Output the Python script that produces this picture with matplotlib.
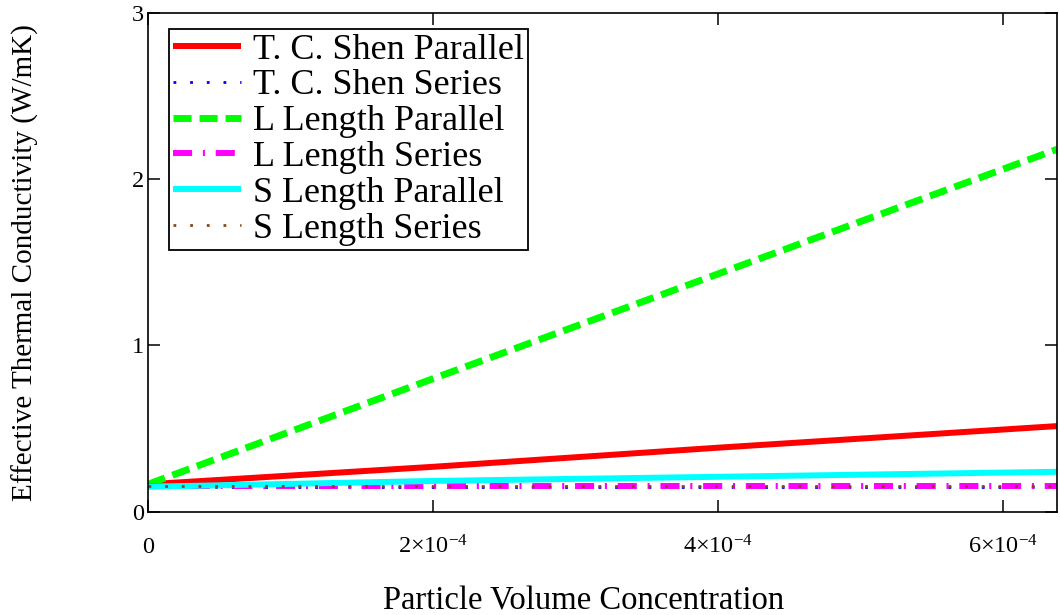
import numpy as np
import matplotlib
matplotlib.use("Agg")
import matplotlib.pyplot as plt

# --- data ---
conc = [0, 2e-4, 4e-4, 6.38e-4]                 # particle volume concentration
shen_parallel = [0.165, 0.27, 0.385, 0.515]
shen_series = [0.15, 0.15, 0.15, 0.15]
l_parallel = [0.165, 0.80, 1.43, 2.18]
l_series = [0.155, 0.155, 0.155, 0.155]
s_parallel = [0.15, 0.185, 0.21, 0.24]
s_series = [0.155, 0.155, 0.155, 0.155]

xticks = [0, 2e-4, 4e-4, 6e-4]
xticklabels = ['0', r'$2{\times}10^{-4}$', r'$4{\times}10^{-4}$', r'$6{\times}10^{-4}$']
yticks = [0, 1, 2, 3]

plt.rcParams['font.family'] = ['Liberation Serif', 'DejaVu Serif']
plt.rcParams['mathtext.fontset'] = 'custom'
plt.rcParams['mathtext.rm'] = 'Liberation Serif'
plt.rcParams['mathtext.it'] = 'Liberation Serif:italic'

fig = plt.figure(figsize=(10.6, 6.15), dpi=100)
ax = fig.add_axes([148 / 1060, 1 - 511.7 / 615, 909 / 1060, 498.7 / 615])

ax.plot(conc, shen_parallel, color='#FF0000', lw=4.3, solid_capstyle='butt', label='T. C. Shen Parallel')
ax.plot(conc, shen_series, color='#0000FF', lw=2, linestyle=(0, (1, 5)), label='T. C. Shen Series')
ax.plot(conc, l_parallel, color='#00FF00', lw=5, linestyle=(0, (2.6, 1.15)), label='L Length Parallel')
ax.plot(conc, l_series, color='#FF00FF', lw=4.3, linestyle=(0, (3.2, 1.8, 0.35, 1.8)), label='L Length Series')
ax.plot(conc, s_parallel, color='#00FFFF', lw=4.3, solid_capstyle='butt', label='S Length Parallel')
ax.plot(conc, s_series, color='#8B4513', lw=2, linestyle=(0, (1, 5)), label='S Length Series')

ax.set_xlim(0, 6.38e-4)
ax.set_ylim(0, 3)
ax.set_xticks(xticks)
ax.set_xticklabels(xticklabels)
ax.set_yticks(yticks)
for s in ax.spines.values():
    s.set_linewidth(1.2)
    s.set_color('black')
ax.tick_params(direction='in', length=8.5, width=1.1, top=True, right=True, labelsize=17.5, colors='black')
ax.tick_params(axis='x', pad=30)
ax.tick_params(axis='y', pad=3)
for lab in ax.get_xticklabels():
    lab.set_va('baseline')

ax.set_xlabel('Particle Volume Concentration', fontsize=23.5, va='center')
ax.xaxis.set_label_coords(0.479, -0.18)
ax.set_ylabel('Effective Thermal Conductivity (W/mK)', fontsize=21, va='center')
ax.yaxis.set_label_coords(-0.135, 0.5)

leg = ax.legend(loc='upper left', bbox_to_anchor=(0.023, 0.968), borderaxespad=0,
                fontsize=26, frameon=True, fancybox=False, handlelength=1.88,
                handletextpad=0.32, labelspacing=0.07, borderpad=0.12)
leg.get_frame().set_edgecolor('black')
leg.get_frame().set_linewidth(1.3)
leg.get_frame().set_alpha(1)

fig.savefig('out.png', dpi=100)
